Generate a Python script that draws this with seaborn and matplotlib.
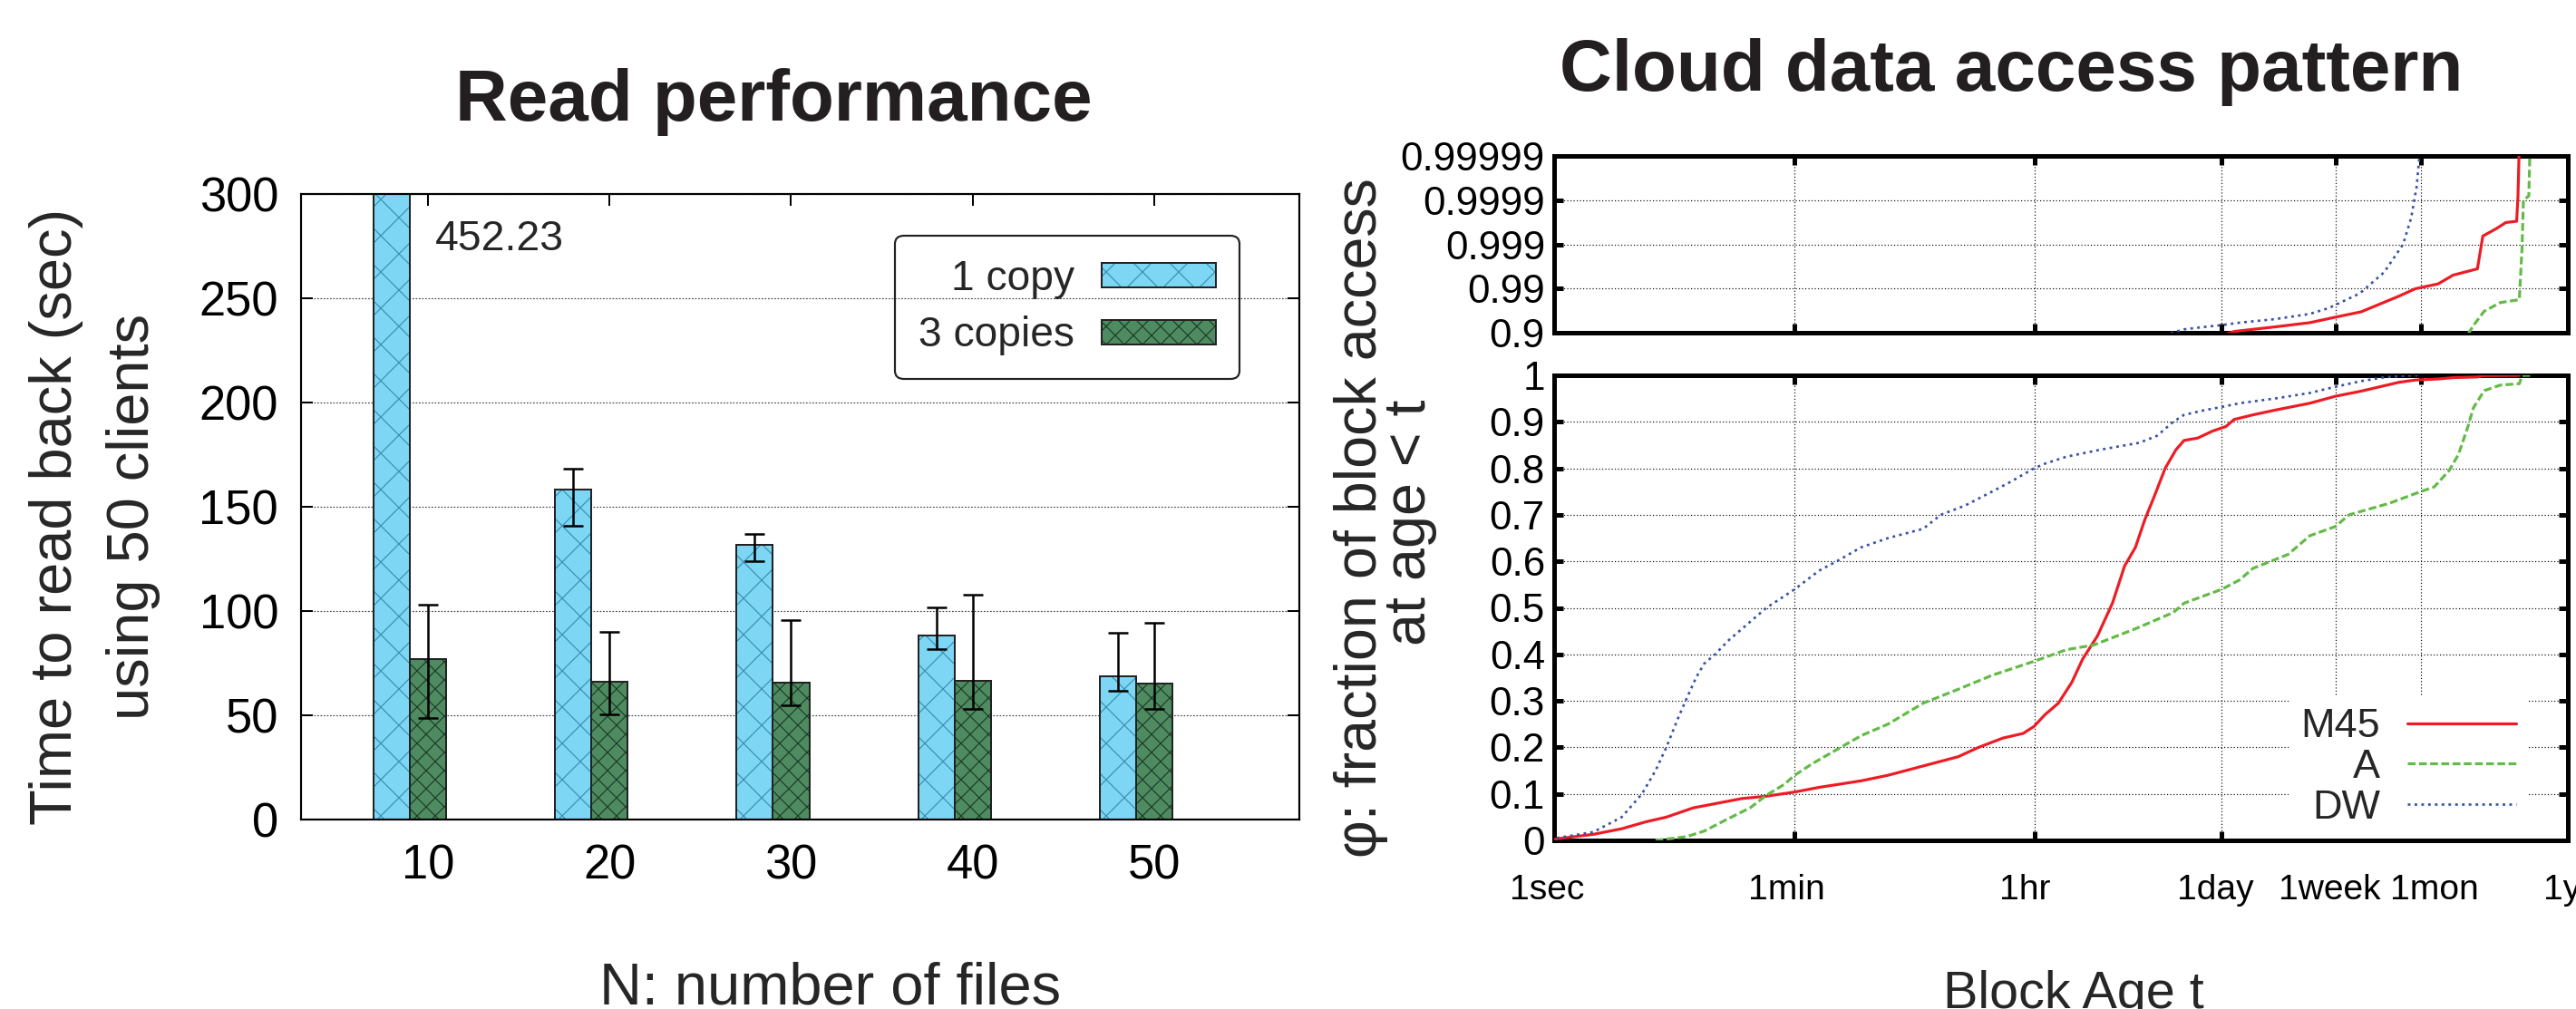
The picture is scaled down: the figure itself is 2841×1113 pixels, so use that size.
import numpy as np
import pandas as pd
import matplotlib
matplotlib.use("Agg")
import matplotlib.pyplot as plt
import matplotlib.transforms as mtransforms
import seaborn as sns
from matplotlib.patches import Rectangle, Patch
from matplotlib.legend_handler import HandlerTuple
from matplotlib.ticker import NullLocator

# ---------------- data: Read performance ----------------
n_files = ["10", "20", "30", "40", "50"]
copy_labels = ["1 copy", "3 copies"]
time_1copy = [452.23, 158.0, 131.5, 88.2, 68.6]
time_3copies = [76.7, 66.2, 65.6, 66.4, 65.1]
err_low_1copy = [np.nan, 141.0, 123.9, 81.8, 61.9]
err_high_1copy = [np.nan, 168.1, 136.9, 101.7, 89.6]
err_low_3copies = [48.5, 50.6, 54.7, 52.8, 52.8]
err_high_3copies = [102.8, 89.8, 95.8, 107.9, 94.1]
clipped_value_label = "452.23"
read_yticks = [0, 50, 100, 150, 200, 250, 300]

# ---------------- data: Cloud data access pattern ----------------
age_tick_seconds = [1, 60, 3600, 86400, 604800, 2592000, 31536000]
age_tick_labels = ["1sec", "1min", "1hr", "1day", "1week", "1mon", "1yr"]
phi_ticks = [0, 0.1, 0.2, 0.3, 0.4, 0.5, 0.6, 0.7, 0.8, 0.9, 1]
phi_tick_labels = ["0", "0.1", "0.2", "0.3", "0.4", "0.5", "0.6", "0.7", "0.8", "0.9", "1"]
tail_ticks = [0.9, 0.99, 0.999, 0.9999, 0.99999]
tail_tick_labels = ["0.9", "0.99", "0.999", "0.9999", "0.99999"]
series_names = ["M45", "A", "DW"]

# log10(age in seconds), fraction phi
m45_log_age = [0.01, 0.29, 0.50, 0.68, 0.83, 1.03, 1.21, 1.39, 1.57, 1.78, 1.96, 2.27,
               2.47, 2.73, 2.99, 3.14, 3.32, 3.47, 3.55, 3.63, 3.73, 3.83, 3.91, 4.02,
               4.13, 4.22, 4.30, 4.37, 4.44, 4.52, 4.60, 4.66, 4.76, 4.87, 4.97, 5.03,
               5.17, 5.33, 5.59, 5.78, 5.97, 6.25, 6.37, 6.54, 6.65, 6.83, 6.87, 6.97,
               7.04, 7.12, 7.13, 7.14]
m45_phi = [0.003, 0.013, 0.025, 0.04, 0.05, 0.07, 0.08, 0.09, 0.095, 0.104, 0.114, 0.128,
           0.14, 0.16, 0.18, 0.20, 0.22, 0.23, 0.245, 0.27, 0.295, 0.34, 0.39, 0.44,
           0.51, 0.59, 0.63, 0.69, 0.74, 0.80, 0.84, 0.86, 0.865, 0.88, 0.89, 0.905,
           0.915, 0.925, 0.94, 0.955, 0.966, 0.985, 0.9898, 0.9921, 0.995, 0.9964, 0.99935, 0.99956,
           0.99968, 0.9997, 0.99992, 0.999995]

a_log_age = [0.75, 0.98, 1.11, 1.27, 1.45, 1.57, 1.70, 1.78, 1.91, 2.09, 2.27, 2.47,
             2.73, 2.99, 3.24, 3.55, 3.79, 3.99, 4.30, 4.58, 4.66, 4.94, 5.07, 5.17,
             5.43, 5.59, 5.78, 5.88, 6.18, 6.41, 6.51, 6.62, 6.69, 6.76, 6.80, 6.88,
             7.00, 7.14, 7.16, 7.17, 7.21, 7.22]
a_phi = [0.0, 0.008, 0.02, 0.044, 0.07, 0.097, 0.12, 0.14, 0.165, 0.195, 0.225, 0.25,
         0.295, 0.325, 0.355, 0.385, 0.41, 0.42, 0.455, 0.49, 0.51, 0.54, 0.56, 0.585,
         0.615, 0.655, 0.675, 0.70, 0.725, 0.75, 0.76, 0.795, 0.83, 0.89, 0.93, 0.967,
         0.979, 0.982, 0.9988, 0.9999, 0.99992, 0.999995]

dw_log_age = [0.02, 0.29, 0.50, 0.65, 0.75, 0.83, 0.92, 0.98, 1.05, 1.11, 1.19, 1.29,
              1.45, 1.57, 1.78, 1.96, 2.09, 2.27, 2.47, 2.73, 2.86, 3.04, 3.24, 3.37,
              3.55, 3.63, 3.79, 4.04, 4.33, 4.46, 4.58, 4.66, 4.81, 4.94, 5.07, 5.33,
              5.59, 5.73, 5.96, 6.14, 6.28, 6.34, 6.38, 6.41]
dw_phi = [0.005, 0.018, 0.05, 0.10, 0.15, 0.20, 0.265, 0.305, 0.35, 0.38, 0.40, 0.43,
          0.47, 0.50, 0.54, 0.58, 0.60, 0.63, 0.65, 0.67, 0.70, 0.72, 0.75, 0.77,
          0.80, 0.81, 0.825, 0.84, 0.855, 0.87, 0.90, 0.915, 0.925, 0.932, 0.94, 0.95,
          0.962, 0.972, 0.987, 0.9957, 0.999, 0.99975, 0.99995, 0.999995]

# ---------------- styling ----------------
DPI = 120
sns.set_theme(style="white")
plt.rcParams["font.family"] = ["Liberation Sans", "DejaVu Sans"]
plt.rcParams["hatch.linewidth"] = 0.7
plt.rcParams["axes.unicode_minus"] = False

c_1copy, c_3copies = "#7dd6f4", "#4f8b61"
hatch_1copy, hatch_3copies = "#3a8db0", "#1b3a25"
bar_edge = "#222222"
line_colors = ["#ed1c24", "#62bb46", "#3953a4"]
title_color = "#231f20"

W, H = 2841, 1113
fig = plt.figure(figsize=(W / DPI, H / DPI), dpi=DPI)


def fx(px):
    return px / W


def fy(py):
    return 1 - py / H


# ================= Left: Read performance =================
axL = fig.add_axes([fx(332), fy(904), fx(1433) - fx(332), fy(213.6) - fy(904)])
df_read = pd.DataFrame({
    "N": n_files * 2,
    "copies": [copy_labels[0]] * len(n_files) + [copy_labels[1]] * len(n_files),
    "time": time_1copy + time_3copies,
})
sns.barplot(data=df_read, x="N", y="time", hue="copies", order=n_files,
            hue_order=copy_labels, palette=[c_1copy, c_3copies], width=0.4,
            saturation=1, errorbar=None, legend=False, ax=axL, linewidth=0, zorder=2)

hatch_specs = [("x", hatch_1copy), ("xx", hatch_3copies)]
legend_handles = []
for cont, (h, hc), fc in zip(axL.containers, hatch_specs, [c_1copy, c_3copies]):
    for p in cont.patches:
        p.set_hatch(h)
        p.set_edgecolor(hc)
        p.set_linewidth(0)
        axL.add_patch(Rectangle(p.get_xy(), p.get_width(), p.get_height(), fill=False,
                                edgecolor=bar_edge, linewidth=1.2, zorder=2.5))
    legend_handles.append((Patch(facecolor=fc, edgecolor=hc, hatch=h, linewidth=0),
                           Patch(facecolor="none", edgecolor=bar_edge, linewidth=1.2)))

for cont, lo, hi in zip(axL.containers, [err_low_1copy, err_low_3copies],
                        [err_high_1copy, err_high_3copies]):
    xs = np.array([p.get_x() + p.get_width() / 2 for p in cont.patches])
    ys = np.array([p.get_height() for p in cont.patches])
    lo = np.array(lo)
    hi = np.array(hi)
    ok = ~np.isnan(lo)
    axL.errorbar(xs[ok], ys[ok], yerr=[ys[ok] - lo[ok], hi[ok] - ys[ok]], fmt="none",
                 ecolor="black", elinewidth=1.5, capsize=6.5, capthick=1.5, zorder=3)

tick_pos = [p.get_x() + p.get_width() / 2 for p in axL.containers[1].patches]
axL.set_xticks(tick_pos, n_files)
axL.set_xlim(-0.6, 4.9)
axL.set_ylim(0, 300)
axL.set_yticks(read_yticks)
axL.set_xlabel("")
axL.set_ylabel("")
axL.yaxis.grid(True, linestyle=(0, (1.5, 1.5)), color="#444444", linewidth=0.7, zorder=0)
axL.xaxis.grid(False)
axL.set_axisbelow(True)
for s in axL.spines.values():
    s.set_visible(True)
    s.set_linewidth(1.3)
    s.set_color("black")
    s.set_zorder(4)
axL.tick_params(axis="y", direction="in", length=7.8, width=1.2, left=True, right=True,
                labelsize=31.5, pad=15, colors="black")
axL.tick_params(axis="x", direction="in", length=7.8, width=1.2, top=True, bottom=False,
                labelsize=31.5, pad=16, colors="black")
axL.text(0.14, 272.7, clipped_value_label, ha="left", va="baseline", fontsize=27.8)

legL = axL.legend(legend_handles, copy_labels, handler_map={tuple: HandlerTuple(ndivide=1)},
                  loc="center", bbox_to_anchor=(0.7675, 0.8184), fontsize=27.7,
                  markerfirst=False, handlelength=2.74, handleheight=0.52,
                  handletextpad=0.65, labelspacing=0.41, borderpad=0.55,
                  frameon=True, fancybox=True, framealpha=1, facecolor="none",
                  edgecolor="#222222")
legL.get_frame().set_linewidth(1.3)
legL.set_zorder(5)

fig.text(fx(853), fy(133), "Read performance", ha="center", va="baseline",
         fontsize=48, fontweight="bold", color=title_color)
fig.text(fx(62), fy(570), "Time to read back (sec)", rotation=90, ha="center",
         va="center", fontsize=39)
fig.text(fx(147), fy(570), "using 50 clients", rotation=90, ha="center",
         va="center", fontsize=39)
fig.text(fx(916), fy(1108), "N: number of files", ha="center", va="baseline", fontsize=39)

# ================= Right: Cloud data access pattern =================
axT = fig.add_axes([fx(1714), fy(366.7), fx(2832) - fx(1714), fy(172.3) - fy(366.7)])
axB = fig.add_axes([fx(1714), fy(927), fx(2832) - fx(1714), fy(414) - fy(927)])


def nines_fwd(y):
    y = np.asarray(y, dtype=float)
    return -np.log10(np.clip(1 - y, 1e-9, None))


def nines_inv(v):
    return 1 - 10 ** (-np.asarray(v, dtype=float))


axT.set_yscale("function", functions=(nines_fwd, nines_inv))

line_styles = ["-", (0, (2.7, 1.2)), (0, (1.1, 1.7))]
line_widths = [1.9, 1.9, 1.6]
series_ages = [m45_log_age, a_log_age, dw_log_age]
series_phis = [m45_phi, a_phi, dw_phi]

for ax in (axT, axB):
    for name, la, ph, col, ls, lw in zip(series_names, series_ages, series_phis,
                                         line_colors, line_styles, line_widths):
        d = pd.DataFrame({"age": 10 ** np.array(la), "phi": ph})
        sns.lineplot(data=d, x="age", y="phi", ax=ax, color=col, linewidth=lw,
                     linestyle=ls, sort=False, estimator=None, legend=False,
                     label=name, zorder=3)
    ax.set_xscale("log")
    ax.set_xlim(age_tick_seconds[0], age_tick_seconds[-1])
    ax.set_xticks(age_tick_seconds, age_tick_labels)
    ax.xaxis.set_minor_locator(NullLocator())
    ax.yaxis.set_minor_locator(NullLocator())
    ax.set_xlabel("")
    ax.set_ylabel("")
    ax.grid(True, which="major", color="black", linestyle=(0, (1, 2)), linewidth=0.7)
    ax.set_axisbelow(True)
    for s in ax.spines.values():
        s.set_visible(True)
        s.set_linewidth(3)
        s.set_color("black")
    ax.tick_params(axis="both", which="major", direction="in", length=6, width=3,
                   top=True, right=True, bottom=True, left=True, colors="black")
    ax.tick_params(axis="y", labelsize=26.4, pad=6)
    ax.tick_params(axis="x", labelsize=23.4, pad=22)

axT.set_ylim(0.9, 0.99999)
axT.set_yticks(tail_ticks, tail_tick_labels)
axT.yaxis.set_minor_locator(NullLocator())
axT.tick_params(axis="x", labelbottom=False)

axB.set_ylim(0, 1)
axB.set_yticks(phi_ticks, phi_tick_labels)

# small horizontal nudges of the age labels, as in the reference
age_label_shift_px = [-8, -9, -11, -7, -7, 15, 0]
for tick, dx in zip(axB.xaxis.get_major_ticks(), age_label_shift_px):
    lab = tick.label1
    lab.set_transform(lab.get_transform() +
                      mtransforms.ScaledTranslation(dx / DPI, 0, fig.dpi_scale_trans))

legR = axB.legend(axB.lines[:3], series_names, loc="center", bbox_to_anchor=(0.843, 0.157),
                  fontsize=27, markerfirst=False, handlelength=2.67, handletextpad=0.67,
                  labelspacing=0.08, borderpad=0.3, frameon=True, fancybox=False,
                  framealpha=1, facecolor="white", edgecolor="none")
legR.set_zorder(5)

fig.text(fx(2218), fy(100), "Cloud data access pattern", ha="center", va="baseline",
         fontsize=48, fontweight="bold", color=title_color)
fig.text(fx(1501), fy(571), "\u03c6: fraction of block access", rotation=90, ha="center",
         va="center", fontsize=38.8)
fig.text(fx(1555), fy(576), "at age < t", rotation=90, ha="center", va="center",
         fontsize=38.8)
fig.text(fx(2287), fy(1112), "Block Age t", ha="center", va="baseline", fontsize=34.5)

fig.savefig("out.png", dpi=DPI)
